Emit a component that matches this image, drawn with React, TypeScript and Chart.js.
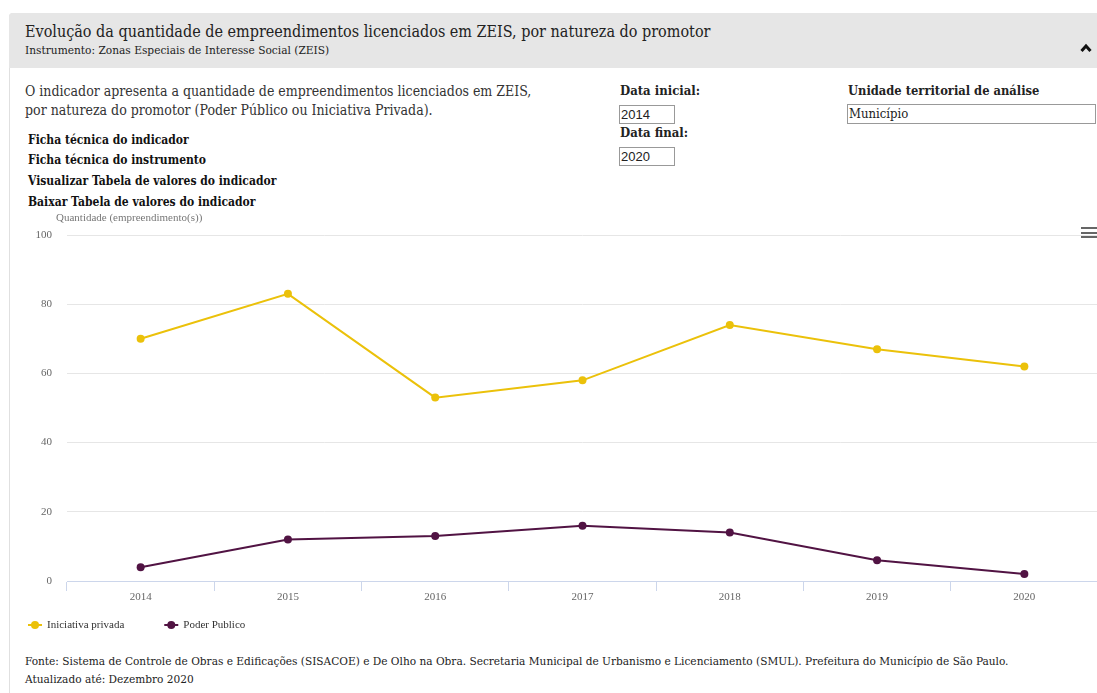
import React, { useEffect, useRef } from "react";
import { Chart, registerables } from "chart.js";

Chart.register(...registerables);

const years = ["2014", "2015", "2016", "2017", "2018", "2019", "2020"];
const privada = [70, 83, 53, 58, 74, 67, 62];
const publico = [4, 12, 13, 16, 14, 6, 2];
const seriesNames = ["Iniciativa privada", "Poder Publico"];
const seriesColors = ["#EBC10A", "#511343"];
const axisTitle = "Quantidade (empreendimento(s))";
const yMin = 0;
const yMax = 100;
const yStep = 20;

const SLAB = '"DejaVu Serif Condensed", "DejaVu Serif", serif';
const CHART_FONT = '"Liberation Serif", "Times New Roman", serif';

const overlayPlugin = {
  id: "overlay",
  afterDraw(chart: any) {
    const ctx = chart.ctx;
    const a = chart.chartArea;
    ctx.save();
    ctx.font = `11px ${CHART_FONT}`;
    ctx.textBaseline = "middle";
    ctx.textAlign = "left";
    ctx.fillStyle = "#777";
    ctx.fillText(axisTitle, a.left - 11, a.top - 17);
    let x = 28;
    const y = a.bottom + 44;
    chart.data.datasets.forEach((ds: any) => {
      ctx.strokeStyle = ds.borderColor;
      ctx.lineWidth = 2;
      ctx.beginPath();
      ctx.moveTo(x, y);
      ctx.lineTo(x + 14, y);
      ctx.stroke();
      ctx.fillStyle = ds.borderColor;
      ctx.beginPath();
      ctx.arc(x + 7, y, 4, 0, Math.PI * 2);
      ctx.fill();
      ctx.fillStyle = "#333";
      ctx.fillText(ds.label, x + 19, y);
      x += 19 + ctx.measureText(ds.label).width + 40;
    });
    ctx.restore();
  },
};

function LineChart() {
  const ref = useRef<HTMLCanvasElement>(null);
  useEffect(() => {
    if (!ref.current) return;
    const chart = new Chart(ref.current, {
      type: "line",
      data: {
        labels: years,
        datasets: [
          {
            label: seriesNames[0],
            data: privada,
            borderColor: seriesColors[0],
            backgroundColor: seriesColors[0],
            borderWidth: 2,
            pointRadius: 4,
            pointHoverRadius: 4,
            pointBorderWidth: 0,
            tension: 0,
          },
          {
            label: seriesNames[1],
            data: publico,
            borderColor: seriesColors[1],
            backgroundColor: seriesColors[1],
            borderWidth: 2,
            pointRadius: 4,
            pointHoverRadius: 4,
            pointBorderWidth: 0,
            tension: 0,
          },
        ],
      },
      options: {
        animation: false,
        responsive: false,
        maintainAspectRatio: false,
        layout: { padding: { top: 30, left: 0, right: 12, bottom: 34 } },
        plugins: {
          legend: { display: false },
          tooltip: { enabled: false },
          title: { display: false },
        },
        scales: {
          x: {
            type: "category",
            offset: true,
            grid: {
              offset: true,
              drawOnChartArea: false,
              drawTicks: true,
              tickLength: 10,
              color: "#ccd6eb",
            },
            border: { display: true, color: "#ccd6eb", width: 1 },
            ticks: {
              color: "#666",
              font: { family: CHART_FONT, size: 11 },
              padding: 0,
              maxRotation: 0,
            },
            afterFit(scale: any) {
              scale.height = 30;
            },
          },
          y: {
            min: yMin,
            max: yMax,
            grid: { color: "#e6e6e6", drawTicks: false },
            border: { display: false },
            ticks: {
              stepSize: yStep,
              color: "#666",
              padding: 15,
              font: { family: CHART_FONT, size: 11 },
            },
            afterFit(scale: any) {
              scale.width = 67;
            },
          },
        },
      },
      plugins: [overlayPlugin],
    });
    return () => chart.destroy();
  }, []);
  return (
    <canvas
      ref={ref}
      width={1110}
      height={440}
      style={{ position: "absolute", left: 0, top: 205, width: 1110, height: 440 }}
    />
  );
}

const boxStyle: React.CSSProperties = {
  position: "absolute",
  border: "1px solid #999",
  boxSizing: "border-box",
  background: "#fff",
  fontSize: 13,
  lineHeight: "17px",
  paddingLeft: 1,
  color: "#222",
};

export default function App() {
  return (
    <div
      style={{
        position: "fixed",
        left: 0,
        top: 0,
        width: 1097,
        height: 693,
        overflow: "hidden",
        background: "#fff",
        fontFamily: SLAB,
        fontStretch: "condensed",
      }}
    >
      {/* panel border */}
      <div
        style={{
          position: "absolute",
          left: 9,
          top: 13,
          width: 1100,
          height: 700,
          borderLeft: "1px solid #e0e0e0",
          borderTop: "1px solid #e0e0e0",
          borderTopLeftRadius: 4,
          boxSizing: "border-box",
        }}
      />
      {/* header */}
      <div
        style={{
          position: "absolute",
          left: 9,
          top: 13,
          width: 1100,
          height: 55,
          background: "#e6e6e6",
          borderTopLeftRadius: 4,
        }}
      >
        <div style={{ position: "absolute", left: 16, top: 9, fontSize: 16, color: "#222", whiteSpace: "nowrap" }}>
          Evolução da quantidade de empreendimentos licenciados em ZEIS, por natureza do promotor
        </div>
        <div style={{ position: "absolute", left: 16, top: 30, fontSize: 11.8, color: "#222", whiteSpace: "nowrap" }}>
          Instrumento: Zonas Especiais de Interesse Social (ZEIS)
        </div>
        <svg style={{ position: "absolute", left: 1071, top: 30 }} width={12} height={10}>
          <polyline points="1.5,8 6,3 10.5,8" fill="none" stroke="#111" strokeWidth={3} />
        </svg>
      </div>

      {/* description */}
      <div style={{ position: "absolute", left: 25, top: 82, fontSize: 14, lineHeight: "19px", color: "#333", whiteSpace: "nowrap" }}>
        O indicador apresenta a quantidade de empreendimentos licenciados em ZEIS,
        <br />
        por natureza do promotor (Poder Público ou Iniciativa Privada).
      </div>
      {[
        "Ficha técnica do indicador",
        "Ficha técnica do instrumento",
        "Visualizar Tabela de valores do indicador",
        "Baixar Tabela de valores do indicador",
      ].map((t, i) => (
        <div
          key={t}
          style={{
            position: "absolute",
            left: 28,
            top: 132.5 + i * 20.8,
            fontSize: 12,
            fontWeight: "bold",
            color: "#111",
            whiteSpace: "nowrap",
          }}
        >
          {t}
        </div>
      ))}

      {/* filters */}
      <div style={{ position: "absolute", left: 620, top: 83, fontSize: 13, fontWeight: "bold", color: "#222" }}>Data inicial:</div>
      <div style={{ ...boxStyle, left: 619, top: 105, width: 56, height: 19, fontFamily: '"Liberation Sans", Arial, sans-serif' }}>2014</div>
      <div style={{ position: "absolute", left: 620, top: 125, fontSize: 13, fontWeight: "bold", color: "#222" }}>Data final:</div>
      <div style={{ ...boxStyle, left: 619, top: 147, width: 56, height: 19, fontFamily: '"Liberation Sans", Arial, sans-serif' }}>2020</div>
      <div style={{ position: "absolute", left: 848, top: 83, fontSize: 12.8, fontWeight: "bold", color: "#222", whiteSpace: "nowrap" }}>
        Unidade territorial de análise
      </div>
      <div style={{ ...boxStyle, left: 847, top: 104, width: 249, height: 20 }}>Município</div>

      {/* hamburger */}
      {[0, 1, 2].map((i) => (
        <div
          key={i}
          style={{ position: "absolute", left: 1081, top: 227 + i * 4.5, width: 16, height: 2.2, background: "#666" }}
        />
      ))}

      <LineChart />

      {/* footer */}
      <div style={{ position: "absolute", left: 25, top: 652, fontSize: 11.75, lineHeight: "18px", color: "#222", whiteSpace: "nowrap" }}>
        Fonte: Sistema de Controle de Obras e Edificações (SISACOE) e De Olho na Obra. Secretaria Municipal de Urbanismo e Licenciamento (SMUL). Prefeitura do Município de São Paulo.
        <br />
        Atualizado até: Dezembro 2020
      </div>
    </div>
  );
}
